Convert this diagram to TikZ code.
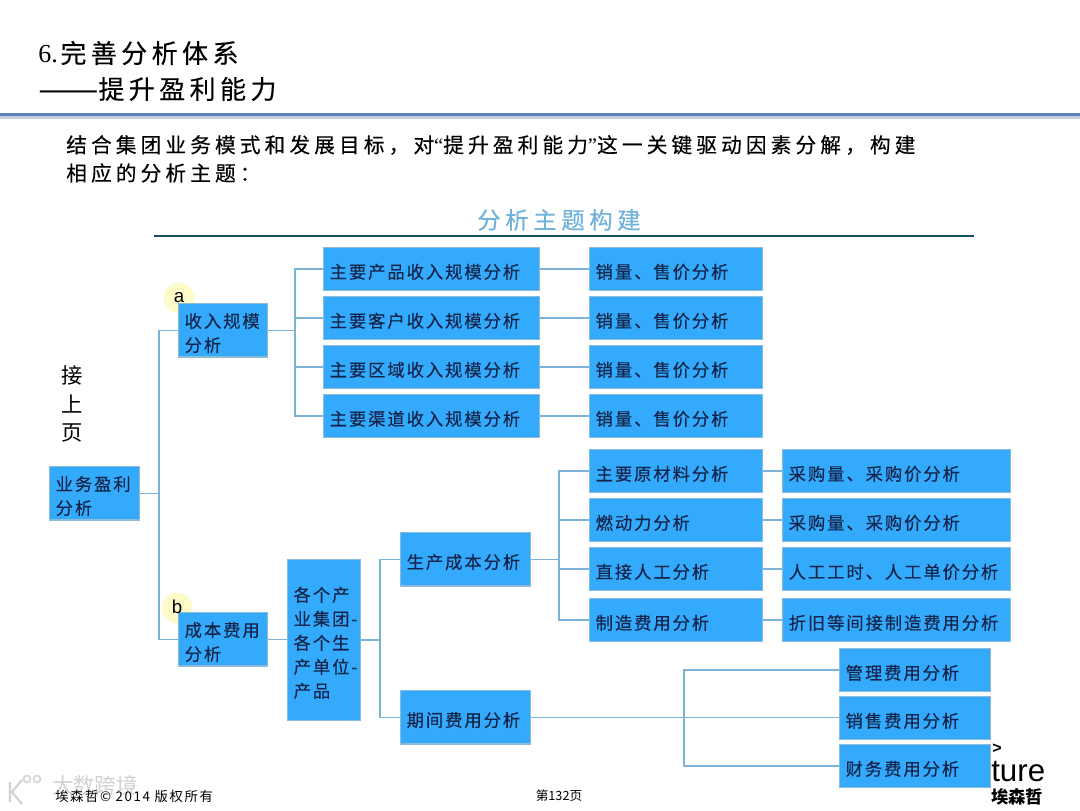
\documentclass[tikz,border=0pt]{standalone}
\usepackage{fontspec}
\usepackage{graphicx}
\setmainfont{Noto Sans CJK SC}
\newfontfamily\cjkbox[LetterSpace=11,FakeBold=0.25]{Noto Sans CJK SC}
\newfontfamily\cjkbody[LetterSpace=20,FakeBold=0.25]{Noto Sans CJK SC}
\newfontfamily\cjktitle[LetterSpace=17,FakeBold=0.25]{Noto Sans CJK SC}
\newfontfamily\cjkfoot[LetterSpace=12]{Noto Sans CJK SC}
\newfontfamily\latinsans{Liberation Sans}
\newfontfamily\latinserif{Liberation Serif}
\definecolor{boxfill}{HTML}{33AAFB}
\definecolor{boxedge}{HTML}{8DBAD6}
\definecolor{linkblue}{HTML}{7DB2D8}
\definecolor{boxtext}{HTML}{14244A}
\definecolor{headblue}{HTML}{5F82BC}
\definecolor{headshade}{HTML}{C5CFE0}
\definecolor{topicblue}{HTML}{6FB2DC}
\definecolor{topicline}{HTML}{17505F}
\definecolor{badge}{HTML}{FDFBC8}
\definecolor{markgray}{HTML}{D2D2D2}
\tikzset{
  x=0.75pt,y=-0.75pt,
  bx/.style={draw=boxedge,line width=1pt,fill=boxfill,text=boxtext,inner sep=0pt,
    font=\cjkbox\fontsize{13pt}{18pt}\selectfont,align=left,anchor=north west,
    text width=#1,minimum height=32.25pt},
  link/.style={draw=linkblue,line width=1.1pt},
  lbl/.style={inner sep=0pt,anchor=west,align=left},
  tagdisc/.style={circle,fill=badge,minimum size=23pt,inner sep=0pt},
  tagtext/.style={inner sep=0pt,font=\latinsans\fontsize{14pt}{15pt}\selectfont},
}
\newcommand{\bxtext}[1]{\hspace*{4.5pt}\rule{0pt}{15pt}#1}
\begin{document}
\begin{tikzpicture}
\useasboundingbox (0,0) rectangle (1080,810);
\fill[white] (0,0) rectangle (1080,810);

% header
\fill[headshade] (0,115) rectangle (1080,119);
\fill[headblue] (0,112.5) rectangle (1080,116);
\node[lbl,font=\cjktitle\fontsize{19.5pt}{22pt}\selectfont] (t1) at (38,53) {{\latinserif 6.}\hspace{2pt}完善分析体系};
\node[lbl,font=\cjktitle\fontsize{19.5pt}{22pt}\selectfont] (t2) at (38,89) {\scalebox{1.38}[1]{——}提升盈利能力};
\node[lbl,font=\cjkbody\fontsize{15.5pt}{21pt}\selectfont] (p1) at (66,145) {结合集团业务模式和发展目标，对{\latinserif “}提升盈利能力{\latinserif ”}这一关键驱动因素分解，构建};
\node[lbl,font=\cjkbody\fontsize{15.5pt}{21pt}\selectfont] (p2) at (66,173) {相应的分析主题：};
\node[lbl,anchor=center,text=topicblue,font=\cjkbody\fontsize{17.5pt}{21pt}\selectfont] (topic) at (559,220) {分析主题构建};
\coordinate (ul1) at (154,236);
\coordinate (ul2) at (974,236);
\draw[topicline,line width=1.1pt] (ul1) -- (ul2);

\node[lbl,anchor=center,font=\fontsize{16pt}{21.4pt}\selectfont,align=center] (jie) at (72,404) {接\\上\\页};

% footer and logo
\node[lbl,text=markgray,font=\fontsize{16pt}{18pt}\selectfont] (wm) at (52,785) {大数跨境};
\draw[markgray,line width=1.6pt] (10,782) -- (10,802) (12,792) -- (22,780) (12,792) -- (22,804);
\draw[markgray,line width=1.2pt] (27,779) circle (3.5) (37,779) circle (3.5);
\node[lbl,font=\cjkfoot\fontsize{10pt}{11pt}\selectfont] (foot) at (55,796) {埃森哲© 2014 版权所有};
\node[lbl,anchor=center,font=\fontsize{9.5pt}{11pt}\selectfont] (page) at (559,796) {第132页};
\node[lbl,font=\latinsans\bfseries\fontsize{12pt}{13pt}\selectfont] (gt) at (992,749) {>};
\node[lbl,font=\latinsans\fontsize{23.5pt}{25pt}\selectfont] (ture) at (991,772) {ture};
\node[lbl,font=\fontsize{13pt}{14pt}\bfseries\selectfont] (logo) at (991,797) {埃森哲};

% badge discs, behind the boxes
\node[tagdisc] (da) at (179,298) {};
\node[tagdisc] (db) at (177,608) {};

% boxes
\node[bx=67.5pt,minimum height=40pt] (biz) at (49,466) {\bxtext{业务盈利}\\\bxtext{分析}};
\node[bx=66.75pt,minimum height=40pt] (rev) at (178,303) {\bxtext{收入规模}\\\bxtext{分析}};
\node[bx=66.75pt,minimum height=40pt] (cost) at (178,612) {\bxtext{成本费用}\\\bxtext{分析}};
\node[bx=54.75pt,minimum height=120.75pt] (unit) at (287,559) {\bxtext{各个产}\\\bxtext{业集团-}\\\bxtext{各个生}\\\bxtext{产单位-}\\\bxtext{产品}};
\node[bx=97.5pt,minimum height=40pt] (prod) at (400,532) {\bxtext{生产成本分析}};
\node[bx=97.5pt,minimum height=40pt] (peri) at (400,690) {\bxtext{期间费用分析}};

\node[bx=162pt] (r1) at (323,247) {\bxtext{主要产品收入规模分析}};
\node[bx=162pt] (r2) at (323,296) {\bxtext{主要客户收入规模分析}};
\node[bx=162pt] (r3) at (323,345) {\bxtext{主要区域收入规模分析}};
\node[bx=162pt] (r4) at (323,394) {\bxtext{主要渠道收入规模分析}};
\node[bx=129.75pt] (s1) at (589,247) {\bxtext{销量、售价分析}};
\node[bx=129.75pt] (s2) at (589,296) {\bxtext{销量、售价分析}};
\node[bx=129.75pt] (s3) at (589,345) {\bxtext{销量、售价分析}};
\node[bx=129.75pt] (s4) at (589,394) {\bxtext{销量、售价分析}};

\node[bx=129.75pt] (m1) at (589,449) {\bxtext{主要原材料分析}};
\node[bx=129.75pt] (m2) at (589,498) {\bxtext{燃动力分析}};
\node[bx=129.75pt] (m3) at (589,547) {\bxtext{直接人工分析}};
\node[bx=129.75pt] (m4) at (589,598) {\bxtext{制造费用分析}};
\node[bx=171pt] (d1) at (782,449) {\bxtext{采购量、采购价分析}};
\node[bx=171pt] (d2) at (782,498) {\bxtext{采购量、采购价分析}};
\node[bx=171pt] (d3) at (782,547) {\bxtext{人工工时、人工单价分析}};
\node[bx=171pt] (d4) at (782,598) {\bxtext{折旧等间接制造费用分析}};

\node[bx=113.25pt] (e1) at (839,648) {\bxtext{管理费用分析}};
\node[bx=113.25pt] (e2) at (839,696) {\bxtext{销售费用分析}};
\node[bx=113.25pt] (e3) at (839,744) {\bxtext{财务费用分析}};

% badge letters, on top
\node[tagtext] (ta) at (179,298) {a};
\node[tagtext] (tb) at (177,607) {b};

% trunk positions
\coordinate (tkA) at (159,493);
\coordinate (tkB) at (295,330);
\coordinate (tkC) at (380,638);
\coordinate (tkD) at (559,559);
\coordinate (tkE) at (684,717);

% connectors
\draw[link] (biz.east) -- (tkA |- biz.east);
\draw[link] (rev.west) -- (tkA |- rev.west) -- (tkA |- cost.west) -- (cost.west);
\draw[link] (rev.east) -- (tkB |- rev.east);
\draw[link] (r1.west) -- (tkB |- r1.west) -- (tkB |- r4.west) -- (r4.west);
\draw[link] (r2.west) -- (tkB |- r2.west);
\draw[link] (r3.west) -- (tkB |- r3.west);
\foreach \a/\b in {r1/s1,r2/s2,r3/s3,r4/s4,m1/d1,m2/d2,m3/d3,m4/d4}{
  \draw[link] (\a.east) -- (\b.west);
}
\draw[link] (cost.east) -- (unit.west |- cost.east);
\draw[link] (unit.east) -- (tkC |- unit.east);
\draw[link] (prod.west) -- (tkC |- prod.west) -- (tkC |- peri.west) -- (peri.west);
\draw[link] (prod.east) -- (tkD |- prod.east);
\draw[link] (m1.west) -- (tkD |- m1.west) -- (tkD |- m4.west) -- (m4.west);
\draw[link] (m2.west) -- (tkD |- m2.west);
\draw[link] (m3.west) -- (tkD |- m3.west);
\draw[link] (peri.east) -- (peri.east -| e2.west);
\draw[link] (e1.west) -- (tkE |- e1.west) -- (tkE |- e3.west) -- (e3.west);
\end{tikzpicture}
\end{document}
